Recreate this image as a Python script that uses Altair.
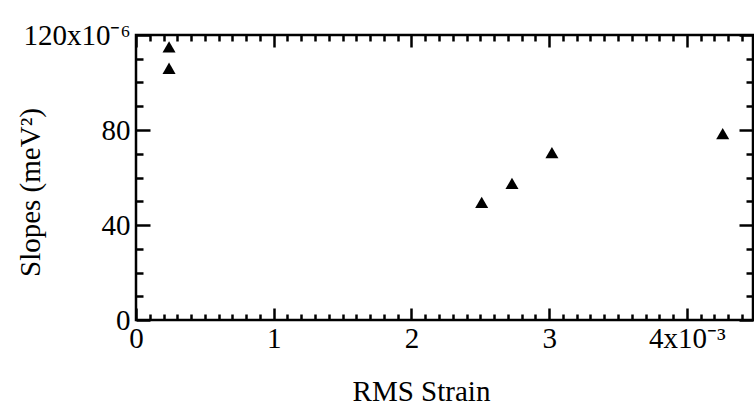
import altair as alt
import pandas as pd

# data (x in units of 1e-3, y in units of 1e-6 meV^2)
strain = [0.24, 0.24, 2.51, 2.73, 3.02, 4.26]
slopes = [115.0, 106.0, 49.5, 57.5, 70.5, 78.5]

x_major = [0, 1, 2, 3, 4]
x_minor = [round(i * 0.1, 1) for i in range(1, 45) if i % 10 != 0]
y_major = [0, 40, 80, 120]
y_minor = [v for v in range(10, 120, 10) if v % 40 != 0]

W, H = 617, 285
FONT = "Liberation Serif"
FS = 29

df = pd.DataFrame({"x": strain, "y": slopes})

xs = alt.Scale(domain=[0, 4.48], nice=False, zero=False)
ys = alt.Scale(domain=[0, 120], nice=False, zero=False)


def tick_axis(orient, offset, values, size):
    return alt.Axis(orient=orient, offset=offset, values=values, tickSize=size,
                    tickWidth=2.5, tickColor="black", labels=False, domain=False,
                    grid=False, title=None)


points = alt.Chart(df).mark_point(shape="triangle-up", filled=True, color="black",
                                   opacity=1, size=170).encode(
    x=alt.X("x:Q", scale=xs, axis=alt.Axis(
        orient="bottom", values=x_major, ticks=False, domain=False, grid=False,
        labelFont=FONT, labelFontSize=FS, labelColor="black", labelPadding=4,
        labelFlush=False,
        labelExpr="datum.value == 4 ? '4x10\u207b\u00b3' : datum.label",
        title="RMS Strain", titleFont=FONT, titleFontSize=FS, titleFontWeight="normal",
        titleColor="black", titleX=285, titleY=71, titleAlign="center",
        titleBaseline="middle")),
    y=alt.Y("y:Q", scale=ys, axis=alt.Axis(
        orient="left", values=y_major, ticks=False, domain=False, grid=False,
        labelFont=FONT, labelFontSize=FS, labelColor="black", labelPadding=6,
        labelFlush=False,
        labelExpr="datum.value == 120 ? '120x10\u207b\u2076\u00a0\u00a0' : datum.label",
        title="Slopes (meV\u00b2)", titleFont=FONT, titleFontSize=FS,
        titleFontWeight="normal", titleColor="black", titleX=-106, titleY=157,
        titleAngle=-90, titleAlign="center", titleBaseline="middle")),
)


def ghost(xaxis, yaxis):
    return alt.Chart(df).mark_point(opacity=0).encode(
        x=alt.X("x:Q", scale=xs, axis=xaxis),
        y=alt.Y("y:Q", scale=ys, axis=yaxis),
    )


layers = [
    points,
    ghost(tick_axis("top", -H, x_major, 12), tick_axis("right", -W, y_major, 14)),
    ghost(tick_axis("top", -H, x_minor, 6), tick_axis("right", -W, y_minor, 7)),
    ghost(tick_axis("bottom", -H, x_major, 12), tick_axis("left", -W, y_major, 14)),
    ghost(tick_axis("bottom", -H, x_minor, 6), tick_axis("left", -W, y_minor, 7)),
]

chart = alt.layer(*layers).resolve_axis(x="independent", y="independent").properties(
    width=W, height=H,
    autosize=alt.AutoSizeParams(type="none"),
    padding={"left": 136, "top": 35, "right": 1, "bottom": 95},
    background="white",
).configure_view(stroke="black", strokeWidth=2.5)

chart.save("out.html", embed_options={"renderer": "svg", "actions": False})
